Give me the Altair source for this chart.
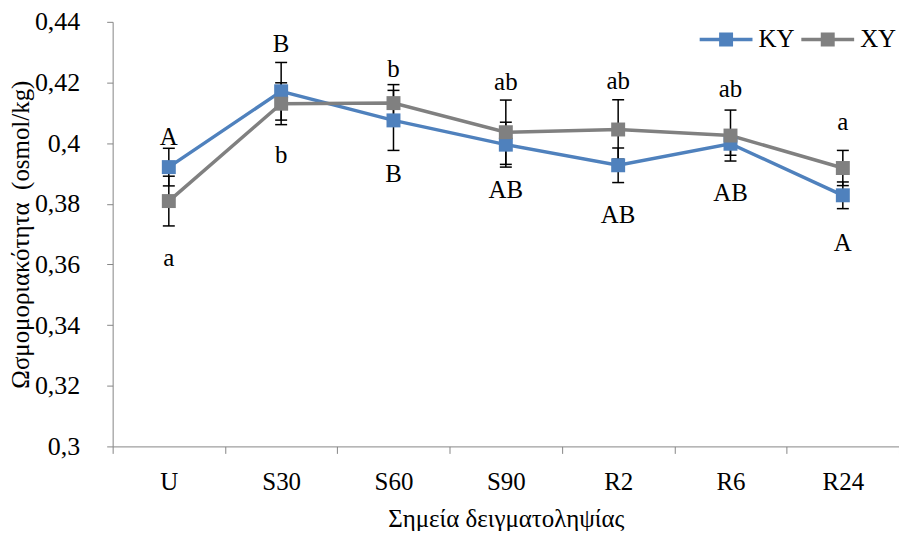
import altair as alt
import pandas as pd

categories = ["U", "S30", "S60", "S90", "R2", "R6", "R24"]
series_names = ["KY", "XY"]
ky_values = [0.3921, 0.4171, 0.4075, 0.3995, 0.3927, 0.3998, 0.3828]
ky_errors = [0.0062, 0.0095, 0.0099, 0.0074, 0.0057, 0.0038, 0.0044]
xy_values = [0.3809, 0.4130, 0.4132, 0.4036, 0.4045, 0.4025, 0.3918]
xy_errors = [0.0082, 0.0069, 0.0061, 0.0106, 0.0098, 0.0084, 0.0058]
ky_letters = ["A", "B", "B", "AB", "AB", "AB", "A"]
xy_letters = ["a", "b", "b", "ab", "ab", "ab", "a"]
ky_letter_at = [0.4019, 0.4328, 0.3897, 0.3845, 0.3762, 0.3835, 0.3670]
xy_letter_at = [0.3621, 0.3960, 0.4246, 0.4203, 0.4206, 0.4177, 0.4071]
y_ticks = [0.30, 0.32, 0.34, 0.36, 0.38, 0.40, 0.42, 0.44]
colors = ["#4F81BD", "#808080"]

rows = []
for name, vals, errs, lets, lat in [
    ("KY", ky_values, ky_errors, ky_letters, ky_letter_at),
    ("XY", xy_values, xy_errors, xy_letters, xy_letter_at),
]:
    for c, v, e, l, la in zip(categories, vals, errs, lets, lat):
        rows.append({"cat": c, "series": name, "value": v,
                     "lo": v - e, "hi": v + e, "letter": l, "ly": la})
df = pd.DataFrame(rows)

FONT = "Liberation Serif"
AX = "#868686"
y_title = "Ωσμομοριακότητα\u00a0 (osmol/kg)"

x_axis = alt.Axis(title="Σημεία δειγματοληψίας", tickBand="extent", labelAngle=0,
                  tickSize=7, labelPadding=16, titleY=80, titleBaseline="alphabetic")
y_axis = alt.Axis(title=y_title, values=y_ticks,
                  labelExpr="replace(format(datum.value, '.2~f'), '.', ',')",
                  tickSize=6, labelPadding=27, labelFontSize=26,
                  titleAngle=270, titleAlign="center",
                  titleBaseline="middle", titleX=-92, titleY=213)
y_scale = alt.Scale(domain=[0.3, 0.44], nice=False, zero=False)
x_scale = alt.Scale(type="band", paddingInner=0, paddingOuter=0)
color_scale = alt.Scale(domain=series_names, range=colors)


def X():
    return alt.X("cat:N", sort=categories, scale=x_scale, axis=x_axis)


def Y(field):
    return alt.Y(field, type="quantitative", scale=y_scale, axis=y_axis)


base = alt.Chart(df)

rules = base.mark_rule(color="black", strokeWidth=1.5).encode(x=X(), y=Y("lo"), y2="hi")
caps_lo = base.mark_tick(color="black", thickness=1.5, size=12, opacity=1).encode(x=X(), y=Y("lo"))
caps_hi = base.mark_tick(color="black", thickness=1.5, size=12, opacity=1).encode(x=X(), y=Y("hi"))

line_layers = [
    base.transform_filter(alt.datum.series == name)
    .mark_line(strokeWidth=3.5, color=col)
    .encode(x=X(), y=Y("value"))
    for name, col in zip(series_names, colors)
]

legend_path = ("M-1,-0.066L1,-0.066L1,0.066L-1,0.066Z "
               "M-0.264,-0.264L0.264,-0.264L0.264,0.264L-0.264,0.264Z")

points = base.mark_point(shape="square", filled=True, size=196, opacity=1).encode(
    x=X(), y=Y("value"),
    fill=alt.Fill("series:N", scale=color_scale, legend=alt.Legend(
        title=None, orient="none", legendX=589, legendY=-9, direction="horizontal",
        symbolType=legend_path, symbolSize=2809, symbolStrokeWidth=0,
        symbolOpacity=1, labelFont=FONT, labelFontSize=25, labelColor="black",
        labelOffset=6, columnPadding=6, padding=0)),
)

texts = base.mark_text(font=FONT, fontSize=25, color="black", baseline="middle",
                       align="center").encode(x=X(), y=Y("ly"), text="letter:N")

chart = alt.layer(rules, caps_lo, caps_hi, *line_layers, points, texts).properties(
    width=789, height=426,
    autosize=alt.AutoSizeParams(type="none"),
    padding={"left": 105, "top": 13, "right": 0, "bottom": 84},
).configure_view(stroke=None).configure_axis(
    domainColor=AX, tickColor=AX, domainWidth=1, tickWidth=1, grid=False,
    labelFont=FONT, labelFontSize=25, labelColor="black",
    titleFont=FONT, titleFontSize=25, titleColor="black", titleFontWeight="normal",
)

chart.save("out.html", embed_options={"renderer": "svg", "actions": False})
